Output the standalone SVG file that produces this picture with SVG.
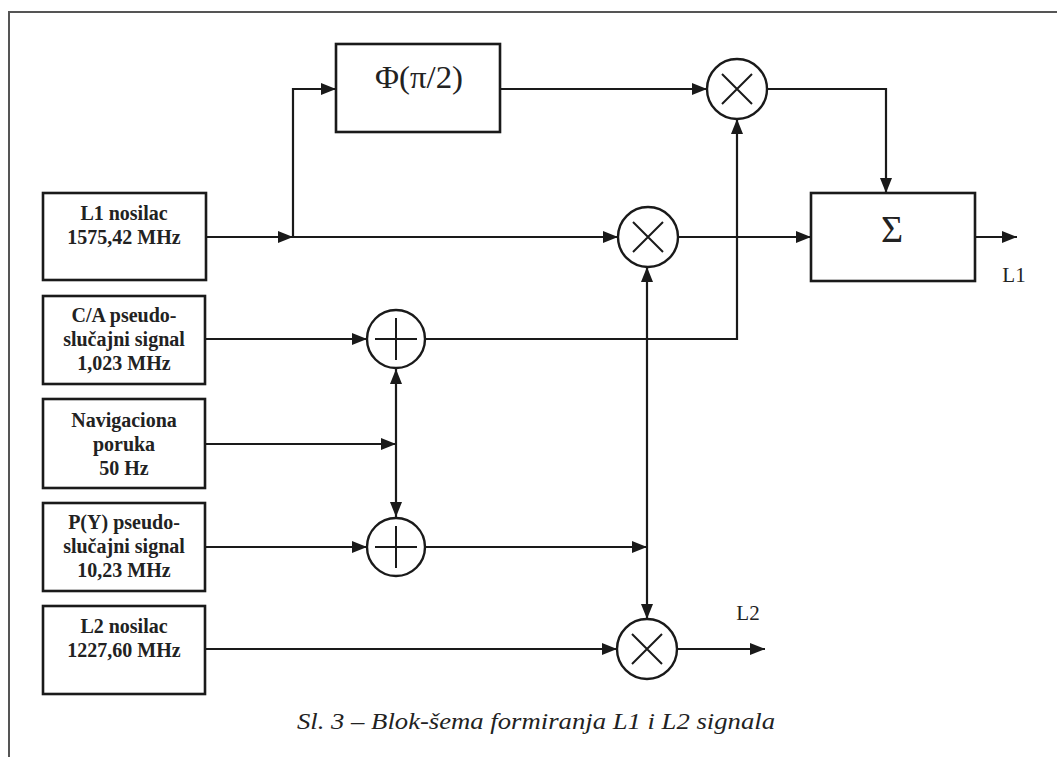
<svg xmlns="http://www.w3.org/2000/svg" width="1057" height="757" viewBox="0 0 1057 757">
<style>
.box{fill:#fff;stroke:#1a1a1a;stroke-width:2.6}
.circ{fill:#fff;stroke:#1a1a1a;stroke-width:2.4}
.sym{stroke:#1a1a1a;stroke-width:2;fill:none}
.con{fill:none;stroke:#1a1a1a;stroke-width:2.2}
.lbl{font-family:"Liberation Serif","Times New Roman",serif;font-size:20px;font-weight:bold;fill:#222;text-anchor:middle}
.out{font-family:"Liberation Serif","Times New Roman",serif;font-size:21px;fill:#222;text-anchor:middle}
.frame{fill:none;stroke:#555;stroke-width:2}
</style>
<defs>
<marker id="ah" markerUnits="userSpaceOnUse" markerWidth="16" markerHeight="12" refX="15" refY="6" orient="auto">
<path d="M0,0 L15,6 L0,12 Z" fill="#1a1a1a"/>
</marker>
</defs>
<rect width="1057" height="757" fill="#fff"/>
<path class="frame" d="M9,757 L9,12 L1057,12"/>

<g id="connectors">
<path class="con" d="M206,237 L293,237" marker-end="url(#ah)"/>
<path class="con" d="M293,237 L618,237" marker-end="url(#ah)"/>
<path class="con" d="M293,237 L293,89 L336,89" marker-end="url(#ah)"/>
<path class="con" d="M500,89 L707,89" marker-end="url(#ah)"/>
<path class="con" d="M767,89 L886,89 L886,193" marker-end="url(#ah)"/>
<path class="con" d="M678,237 L811,237" marker-end="url(#ah)"/>
<path class="con" d="M975,237 L1017,237" marker-end="url(#ah)"/>
<path class="con" d="M205,339 L367,339" marker-end="url(#ah)"/>
<path class="con" d="M425,339 L737,339 L737,119" marker-end="url(#ah)"/>
<path class="con" d="M205,444 L396,444" marker-end="url(#ah)"/>
<path class="con" d="M396,444 L396,369" marker-end="url(#ah)"/>
<path class="con" d="M396,444 L396,517" marker-end="url(#ah)"/>
<path class="con" d="M205,547 L367,547" marker-end="url(#ah)"/>
<path class="con" d="M425,547 L647,547" marker-end="url(#ah)"/>
<path class="con" d="M647,547 L647,267" marker-end="url(#ah)"/>
<path class="con" d="M647,547 L647,619" marker-end="url(#ah)"/>
<path class="con" d="M205,649 L617,649" marker-end="url(#ah)"/>
<path class="con" d="M677,649 L765,649" marker-end="url(#ah)"/>
</g>

<g id="phase">
<rect class="box" x="336" y="44" width="164" height="88"/>
<text x="419" y="88" font-family="'Liberation Serif','Times New Roman',serif" font-size="32" fill="#222" text-anchor="middle" textLength="88" lengthAdjust="spacingAndGlyphs">Φ(π/2)</text>
</g>

<g id="sum">
<rect class="box" x="811" y="193" width="164" height="88"/>
<text x="892" y="242" font-family="'Liberation Serif','Times New Roman',serif" font-size="38" fill="#222" text-anchor="middle">Σ</text>
</g>

<g id="l1carrier">
<rect class="box" x="43" y="193" width="163" height="87"/>
<text class="lbl" x="124" y="220">L1 nosilac</text>
<text class="lbl" x="124" y="244">1575,42 MHz</text>
</g>

<g id="ca">
<rect class="box" x="43" y="296" width="162" height="88"/>
<text class="lbl" x="124" y="322">C/A pseudo-</text>
<text class="lbl" x="124" y="346">slučajni signal</text>
<text class="lbl" x="124" y="370">1,023 MHz</text>
</g>

<g id="nav">
<rect class="box" x="43" y="399" width="162" height="89"/>
<text class="lbl" x="124" y="427">Navigaciona</text>
<text class="lbl" x="124" y="451">poruka</text>
<text class="lbl" x="124" y="475">50 Hz</text>
</g>

<g id="py">
<rect class="box" x="43" y="503" width="162" height="88"/>
<text class="lbl" x="124" y="529">P(Y) pseudo-</text>
<text class="lbl" x="124" y="553">slučajni signal</text>
<text class="lbl" x="124" y="577">10,23 MHz</text>
</g>

<g id="l2carrier">
<rect class="box" x="43" y="606" width="162" height="88"/>
<text class="lbl" x="124" y="633">L2 nosilac</text>
<text class="lbl" x="124" y="657">1227,60 MHz</text>
</g>

<g id="mult-top">
<circle class="circ" cx="737" cy="89" r="30"/>
<path class="sym" d="M722,74 L752,104 M752,74 L722,104"/>
</g>

<g id="mult-mid">
<circle class="circ" cx="648" cy="237" r="30"/>
<path class="sym" d="M633,222 L663,252 M663,222 L633,252"/>
</g>

<g id="mult-l2">
<circle class="circ" cx="647" cy="649" r="30"/>
<path class="sym" d="M632,634 L662,664 M662,634 L632,664"/>
</g>

<g id="add-ca">
<circle class="circ" cx="396" cy="339" r="29"/>
<path class="sym" d="M375,339 L417,339 M396,318 L396,360"/>
</g>

<g id="add-py">
<circle class="circ" cx="396" cy="547" r="29"/>
<path class="sym" d="M375,547 L417,547 M396,526 L396,568"/>
</g>

<g id="labels">
<text class="out" x="1014" y="282">L1</text>
<text class="out" x="748" y="620">L2</text>
<text x="536" y="729" font-family="'Liberation Serif','Times New Roman',serif" font-size="24" font-style="italic" fill="#222" text-anchor="middle" textLength="478" lengthAdjust="spacingAndGlyphs">Sl. 3 – Blok-šema formiranja L1 i L2 signala</text>
</g>
</svg>
